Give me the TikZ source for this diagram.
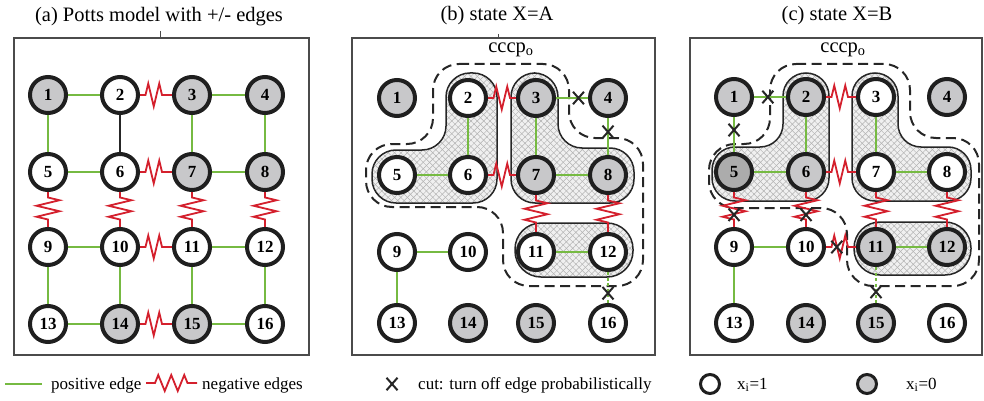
\documentclass[tikz,border=0pt]{standalone}
\usepackage{fontspec}
\setmainfont{Liberation Serif}
\usetikzlibrary{calc,decorations.pathmorphing,patterns.meta,shapes.misc}
\definecolor{posg}{RGB}{118,186,66}
\definecolor{negr}{RGB}{212,32,45}
\definecolor{ndgray}{RGB}{200,200,202}
\definecolor{ndgrayd}{RGB}{172,172,172}
\definecolor{frm}{RGB}{75,75,75}
\pgfdeclarelayer{bg}
\pgfdeclarelayer{edg}
\pgfsetlayers{bg,edg,main}
\tikzset{
  nd/.style={circle, draw=black!88, line width=4pt, minimum size=36pt, inner sep=0pt,
             font=\bfseries\fontsize{17}{17}\selectfont},
  wn/.style={nd, fill=white},
  gn/.style={nd, fill=ndgray},
  dn/.style={nd, fill=ndgrayd},
  posedge/.style={draw=posg, line width=2pt},
  posdash/.style={posedge, dash pattern=on 3pt off 2.5pt},
  blkedge/.style={draw=black!85, line width=2pt},
  negedge/.style={draw=negr, line width=1.8pt, decorate,
              decoration={zigzag, segment length=11pt, amplitude=11.5pt, pre length=5.5pt, post length=5.5pt}},
  cutmark/.style={cross out, draw=black!85, line width=2pt, minimum width=9pt, minimum height=10.5pt, inner sep=0pt},
  panelframe/.style={draw=frm, line width=1.3pt},
  regline/.style={draw=black!85, line width=1.5pt},
  dashline/.style={draw=black!85, line width=2pt, dash pattern=on 10pt off 5.5pt},
  ttl/.style={font=\fontsize{20.5}{24}\selectfont},
  lgd/.style={font=\fontsize{17}{20}\selectfont, anchor=base west, inner sep=0pt},
}
\newcommand\hatchreg[2]{%
  \fill[black!6, rounded corners=#1] #2;
  \path[rounded corners=#1, pattern={Lines[angle=45,distance=4.5pt,line width=0.5pt]}, pattern color=black!30] #2;
  \path[rounded corners=#1, pattern={Lines[angle=-45,distance=4.5pt,line width=0.5pt]}, pattern color=black!30] #2;
  \draw[regline, rounded corners=#1] #2;
}
\begin{document}
\begin{tikzpicture}[x=1pt,y=-1pt]
\useasboundingbox (0,0) rectangle (984,401);

% ---------- titles and frames ----------
\node[ttl] (ta) at (159,17) {(a) Potts model with +/- edges};
\node[ttl] (tb) at (497,16) {(b) state X=A};
\node[ttl] (tc) at (837,16) {(c) state X=B};
\node[ttl] (ka) at (511,50) {cccp\textsubscript{o}};
\node[ttl] (kb) at (843,50) {cccp\textsubscript{o}};
\draw[panelframe] (14,38) rectangle (309,355);
\draw[panelframe] (352,38) rectangle (655,355);
\draw[panelframe] (690,38) rectangle (982,355);
\draw[draw=frm, line width=0.6pt] (160,31) -- (160,38);
\draw[draw=frm, line width=0.5pt] (498,34) -- (498,38);

% ---------- panel (a) nodes ----------
\node[gn] (a1) at (48,95) {1};
\node[wn] (a2) at (120,95) {2};
\node[gn] (a3) at (192,95) {3};
\node[gn] (a4) at (265,95) {4};
\node[wn] (a5) at (48,172) {5};
\node[wn] (a6) at (120,172) {6};
\node[gn] (a7) at (192,172) {7};
\node[gn] (a8) at (265,172) {8};
\node[wn] (a9) at (48,247) {9};
\node[wn] (a10) at (120,247) {10};
\node[wn] (a11) at (192,247) {11};
\node[wn] (a12) at (265,247) {12};
\node[wn] (a13) at (48,324) {13};
\node[gn] (a14) at (120,324) {14};
\node[gn] (a15) at (192,324) {15};
\node[wn] (a16) at (265,324) {16};

% ---------- panel (b) nodes ----------
\node[gn] (b1) at (397,98) {1};
\node[wn] (b2) at (468,98) {2};
\node[gn] (b3) at (536,98) {3};
\node[gn] (b4) at (608,98) {4};
\node[wn] (b5) at (397,175) {5};
\node[wn] (b6) at (468,175) {6};
\node[gn] (b7) at (536,175) {7};
\node[gn] (b8) at (608,175) {8};
\node[wn] (b9) at (397,252) {9};
\node[wn] (b10) at (468,252) {10};
\node[wn] (b11) at (536,252) {11};
\node[wn] (b12) at (608,252) {12};
\node[wn] (b13) at (397,323) {13};
\node[gn] (b14) at (468,323) {14};
\node[gn] (b15) at (536,323) {15};
\node[wn] (b16) at (608,323) {16};

% ---------- panel (c) nodes ----------
\node[gn] (c1) at (734,97) {1};
\node[gn] (c2) at (806,97) {2};
\node[wn] (c3) at (876,97) {3};
\node[gn] (c4) at (947,97) {4};
\node[dn] (c5) at (734,172) {5};
\node[gn] (c6) at (806,172) {6};
\node[wn] (c7) at (876,172) {7};
\node[wn] (c8) at (947,172) {8};
\node[wn] (c9) at (734,247) {9};
\node[wn] (c10) at (806,247) {10};
\node[gn] (c11) at (876,247) {11};
\node[gn] (c12) at (947,247) {12};
\node[wn] (c13) at (734,323) {13};
\node[gn] (c14) at (806,323) {14};
\node[gn] (c15) at (876,323) {15};
\node[wn] (c16) at (947,323) {16};

% ---------- regions ----------
\begin{pgfonlayer}{bg}
\hatchreg{24pt}{(446,73) -- (497,73) -- (497,203) -- (372,203) -- (372,150) -- (446,150) -- cycle}
\hatchreg{24pt}{(511,73) -- (558,73) -- (558,148) -- (634,148) -- (634,203) -- (511,203) -- cycle}
\hatchreg{26pt}{(515,223) -- (633,223) -- (633,277) -- (515,277) -- cycle}
\draw[dashline, rounded corners=26pt] (433,64) -- (569,64) -- (569,138) -- (643,138) -- (643,286) -- (503,286) -- (503,207) -- (366,207) -- (366,144) -- (433,144) -- cycle;

\hatchreg{23pt}{(783,73) -- (829,73) -- (829,201) -- (712,201) -- (712,147) -- (783,147) -- cycle}
\hatchreg{23pt}{(852,73) -- (898,73) -- (898,147) -- (971,147) -- (971,201) -- (852,201) -- cycle}
\hatchreg{26pt}{(854,222) -- (971,222) -- (971,275) -- (854,275) -- cycle}
\draw[dashline, rounded corners=26pt] (770,64) -- (910,64) -- (910,138) -- (979,138) -- (979,286) -- (847,286) -- (847,208) -- (709,208) -- (709,144) -- (770,144) -- cycle;
\end{pgfonlayer}

% ---------- edges ----------
\begin{pgfonlayer}{edg}
% (a)
\foreach \u/\v in {a1/a2,a3/a4,a1/a5,a3/a7,a4/a8,a5/a6,a7/a8,a9/a10,a11/a12,a9/a13,a10/a14,a11/a15,a12/a16,a13/a14,a15/a16}
  \draw[posedge] (\u) -- (\v);
\foreach \u/\v in {a2/a3,a6/a7,a5/a9,a6/a10,a7/a11,a8/a12,a10/a11,a14/a15}
  \draw[negedge] (\u) -- (\v);
\draw[blkedge] (a2) -- (a6);
% (b)
\foreach \u/\v in {b2/b6,b5/b6,b3/b7,b7/b8,b3/b4,b4/b8,b11/b12,b9/b10,b9/b13}
  \draw[posedge] (\u) -- (\v);
\draw[posdash] (b12) -- (b16);
\foreach \u/\v in {b2/b3,b6/b7,b7/b11,b8/b12}
  \draw[negedge] (\u) -- (\v);
% (c)
\foreach \u/\v in {c1/c2,c1/c5,c2/c6,c5/c6,c3/c7,c7/c8,c11/c12,c9/c10,c9/c13}
  \draw[posedge] (\u) -- (\v);
\draw[posdash] (c11) -- (c15);
\foreach \u/\v in {c2/c3,c6/c7,c5/c9,c6/c10,c7/c11,c8/c12,c10/c11}
  \draw[negedge] (\u) -- (\v);
\end{pgfonlayer}

% ---------- cuts ----------
\node[cutmark] (xb1) at ($(b3)!0.59!(b4)$) {};
\node[cutmark] (xb2) at ($(b4)!0.44!(b8)$) {};
\node[cutmark] (xb3) at ($(b12)!0.58!(b16)$) {};
\node[cutmark] (xc1) at ($(c1)!0.47!(c2)$) {};
\node[cutmark] (xc2) at ($(c1)!0.44!(c5)$) {};
\node[cutmark] (xc3) at ($(c5)!0.57!(c9)$) {};
\node[cutmark] (xc4) at ($(c6)!0.57!(c10)$) {};
\node[cutmark] (xc5) at ($(c10)!0.44!(c11)$) {};
\node[cutmark] (xc6) at ($(c11)!0.59!(c15)$) {};

% ---------- legend ----------
\coordinate (lp1) at (5,384);
\coordinate (lp2) at (42,384);
\draw[posedge] (lp1) -- (lp2);
\node[lgd] (lpt) at (51,389) {positive edge};
\coordinate (ln1) at (146,383);
\coordinate (ln2) at (197,383);
\draw[negedge, decoration={zigzag, segment length=13pt, amplitude=8pt, pre length=9pt, post length=9pt}] (ln1) -- (ln2);
\node[lgd] (lnt) at (202,389) {negative edges};
\node[cutmark] (lx) at (392,384) {};
\node[lgd] (lxt) at (418,389) {cut: turn off edge probabilistically};
\node[nd, fill=white, minimum size=19pt, line width=3pt] (lw) at (710,384) {};
\node[lgd] (lwt) at (737,389) {x\textsubscript{i}=1};
\node[nd, fill=ndgray, minimum size=19pt, line width=3pt] (lg) at (867,384) {};
\node[lgd] (lgt) at (906,389) {x\textsubscript{i}=0};
\end{tikzpicture}
\end{document}
